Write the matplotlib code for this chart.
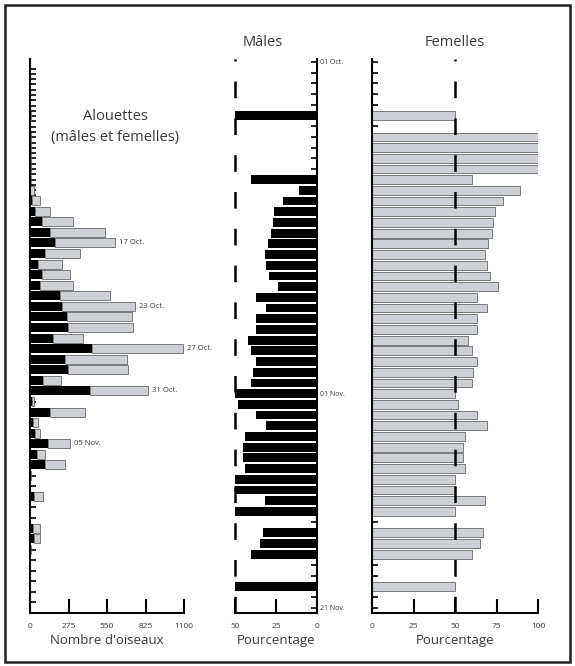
import numpy as np
import matplotlib
matplotlib.use('Agg')
from matplotlib import pyplot as plt
from matplotlib.patches import Rectangle

plt.rcParams['font.family'] = ['Open Sans', 'DejaVu Sans']
plt.rcParams['lines.scale_dashes'] = False

nan = np.nan

# 01 Oct. -> 21 Nov. (52 jours)
jours = ['%02d Oct.' % j for j in range(1, 32)] + ['%02d Nov.' % j for j in range(1, 22)]

# nombre d'oiseaux par jour
nb_males = [0, 0, 0, 0, 2, 0, 0, 0, 0, 0,
            4, 3, 15, 36, 83, 143, 179, 107, 60, 83,
            71, 214, 226, 262, 274, 167, 440, 250, 274, 90,
            428, 12, 143, 18, 36, 131, 48, 107, 2, 1,
            30, 1, 0, 24, 25, 4, 0, 0, 1, 0,
            0, 0]
nb_femelles = [0, 0, 0, 0, 2, 0, 5, 8, 6, 4,
               6, 25, 55, 107, 227, 393, 428, 250, 166, 203,
               239, 357, 524, 464, 464, 214, 650, 440, 428, 130,
               417, 13, 250, 41, 35, 155, 59, 143, 2, 1,
               60, 1, 0, 47, 46, 6, 0, 0, 1, 0,
               0, 0]

# pourcentages par sexe
pct_males = [nan, nan, nan, nan, nan, 50, nan, 0, 0, 0,
             0, 40, 11, 21, 26, 27, 28, 30, 32, 31,
             29, 24, 37, 31, 37, 37, 42, 40, 37, 39,
             40, 50, 48, 37, 31, 44, 45, 45, 44, 50,
             50, 32, 50, nan, 33, 35, 40, nan, nan, 50,
             nan, nan]
pct_femelles = [nan, nan, nan, nan, nan, 50, nan, 100, 100, 100,
                100, 60, 89, 79, 74, 73, 72, 70, 68, 69,
                71, 76, 63, 69, 63, 63, 58, 60, 63, 61,
                60, 50, 52, 63, 69, 56, 55, 55, 56, 50,
                50, 68, 50, nan, 67, 65, 60, nan, nan, 50,
                nan, nan]

dates_notees = ['17 Oct.', '23 Oct.', '27 Oct.', '31 Oct.', '05 Nov.']

gris = '#cdd1d5'
bord = '#505050'
texte = '#3a3a3a'

W, H = 575, 666
fig = plt.figure(figsize=(W / 100, H / 100), dpi=100)


def pos(x0, x1, y0=59, y1=613):
    return [x0 / W, 1 - y1 / H, (x1 - x0) / W, (y1 - y0) / H]


ax1 = fig.add_axes(pos(30, 184))
ax2 = fig.add_axes(pos(235, 317))
ax3 = fig.add_axes(pos(372, 538))

y = np.arange(len(jours))
m = np.array(nb_males, dtype=float)
f = np.array(nb_femelles, dtype=float)

# --- effectifs
ok = (m + f) > 0
ax1.barh(y[ok], m[ok], height=0.85, color='black', zorder=2)
ax1.barh(y[ok], f[ok], left=m[ok], height=0.85, color=gris,
         edgecolor=bord, linewidth=0.5, zorder=2)
for d in dates_notees:
    i = jours.index(d)
    ax1.annotate(d, xy=(m[i] + f[i], i), xytext=(3, 0), textcoords='offset points',
                 va='center', ha='left', fontsize=5.5, color=texte)
ax1.set_xlim(0, 1100)
ax1.set_ylim(50.47, -1.4)
ax1.set_xticks([0, 275, 550, 825, 1100])
ax1.set_yticks(y)
ax1.set_yticks(np.arange(-0.5, 12, 1), minor=True)
ax1.set_yticklabels([])
ax1.set_xlabel("Nombre d'oiseaux", fontsize=9.5, color=texte, labelpad=3)
for s in ['top', 'right']:
    ax1.spines[s].set_visible(False)

# --- males
pm = np.array(pct_males, dtype=float)
ok = ~np.isnan(pm)
ax2.barh(y[ok], pm[ok], height=0.82, color='black', zorder=2)
ax2.set_xlim(50, 0)
ax2.set_ylim(51.5, -0.28)
ax2.set_xticks([50, 25, 0])
ax2.yaxis.tick_right()
ax2.set_yticks(y)
ax2.set_yticklabels([j if j in ('01 Oct.', '01 Nov.', '21 Nov.') else '' for j in jours],
                    fontsize=5, color=texte)
ax2.axvline(50, color='black', lw=1.8, linestyle=(0, (12, 14.5)), zorder=3, clip_on=False)
ax2.set_xlabel('Pourcentage', fontsize=9.5, color=texte, labelpad=3)
for s in ['top', 'left']:
    ax2.spines[s].set_visible(False)

# --- femelles
pf = np.array(pct_femelles, dtype=float)
ok = ~np.isnan(pf)
ax3.barh(y[ok], pf[ok], height=0.82, color=gris, edgecolor=bord, linewidth=0.5, zorder=2)
ax3.set_xlim(0, 100)
ax3.set_ylim(51.5, -0.28)
ax3.set_xticks([0, 25, 50, 75, 100])
ax3.set_yticks(y)
ax3.set_yticklabels([])
ax3.axvline(50, color='black', lw=1.8, linestyle=(0, (12, 14.5)), zorder=3)
ax3.set_xlabel('Pourcentage', fontsize=9.5, color=texte, labelpad=3)
for s in ['top', 'right']:
    ax3.spines[s].set_visible(False)

for ax in (ax1, ax2, ax3):
    for s in ax.spines.values():
        s.set_linewidth(1.5)
    ax.tick_params(axis='x', direction='in', length=10, width=1.5, pad=7,
                   labelsize=6, labelcolor=texte)
    ax.tick_params(axis='y', which='both', direction='in', length=4, width=1.2, pad=2)
    ax.set_facecolor('none')

fig.text(263 / W, 1 - 42 / H, 'Mâles', ha='center', va='center', fontsize=10.5, color=texte)
fig.text(455 / W, 1 - 43 / H, 'Femelles', ha='center', va='center', fontsize=10.5, color=texte)
fig.text(115 / W, 1 - 117 / H, 'Alouettes', ha='center', va='center', fontsize=10.5, color=texte)
fig.text(115 / W, 1 - 138 / H, '(mâles et femelles)', ha='center', va='center',
         fontsize=10.5, color=texte)

fig.add_artist(Rectangle((5 / W, 4 / H), 565 / W, 657 / H, transform=fig.transFigure,
                         fill=False, edgecolor='#222222', linewidth=1.8))

fig.savefig('out.png', dpi=100)
